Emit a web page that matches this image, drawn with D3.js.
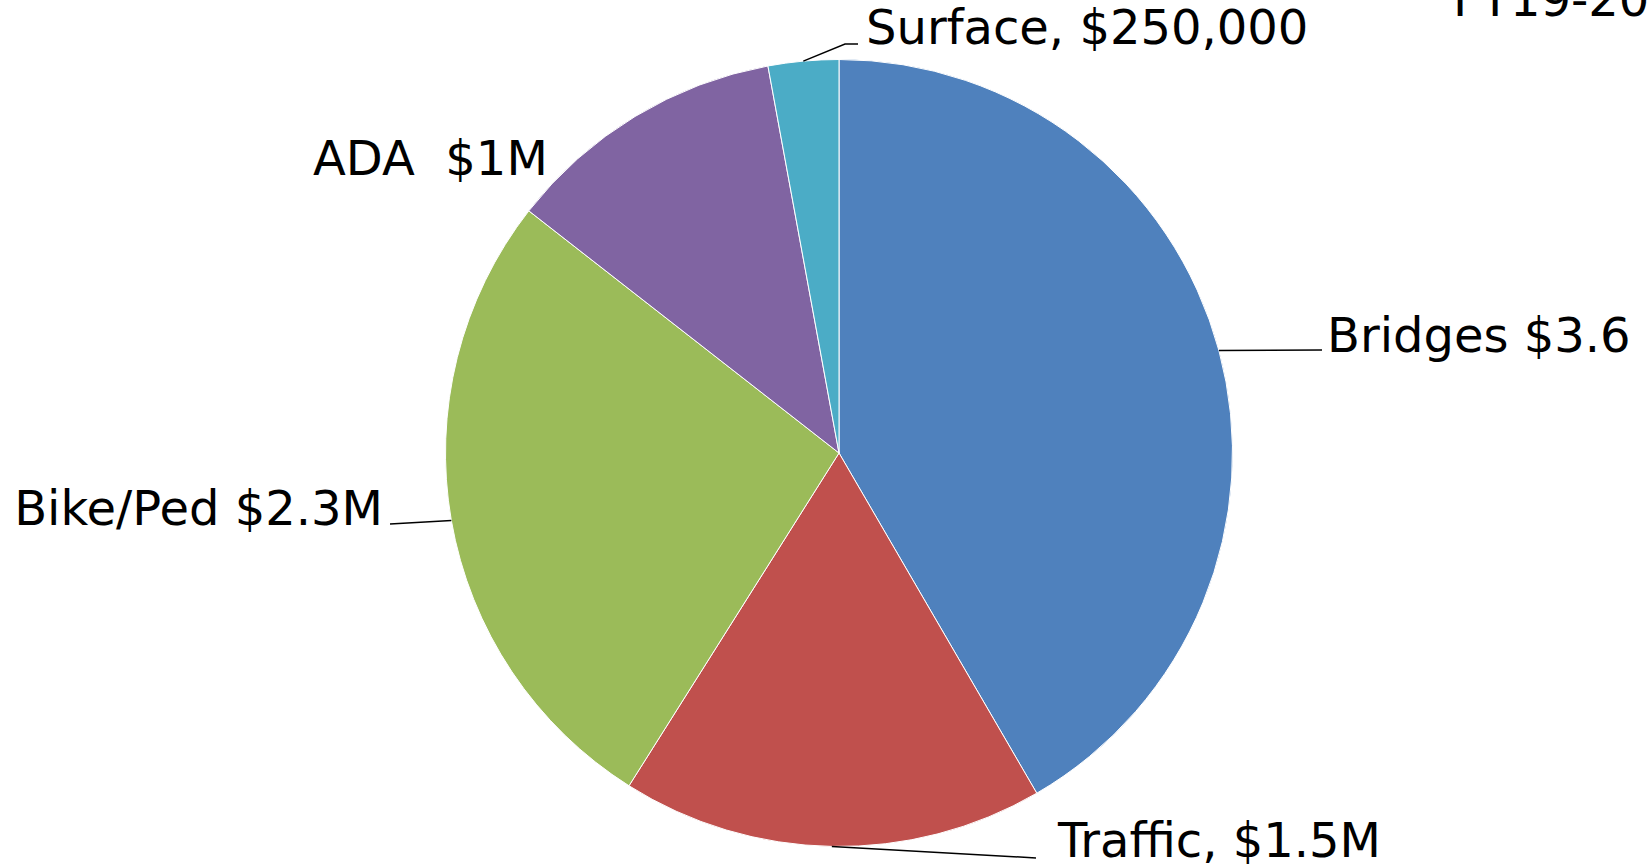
<!DOCTYPE html>
<html>
<head>
<meta charset="utf-8">
<script src="https://cdn.jsdelivr.net/npm/d3@7"></script>
<style>
  html, body { margin: 0; padding: 0; background: #fff; overflow: hidden; }
  text { font-family: "DejaVu Sans", Verdana, sans-serif; fill: #000; white-space: pre; }
</style>
</head>
<body>
<svg id="chart" width="1652" height="864"></svg>
<script>
// budget split, in $M
var categories = ["Bridges", "Traffic", "Bike/Ped", "ADA", "Surface"];
var values = [3.6, 1.5, 2.3, 1.0, 0.25];
var labels = ["Bridges $3.6", "Traffic, $1.5M", "Bike/Ped $2.3M", "ADA  $1M", "Surface, $250,000"];
var colors = ["#4F81BD", "#C0504D", "#9BBB59", "#8064A2", "#4BACC6"];
var title = "FY19-20";

var svg = d3.select("#chart"),
    width = +svg.attr("width"),
    height = +svg.attr("height");

var cx = 839, cy = 453, radius = 393.5;
var fontSize = 48;

var pie = d3.pie().sort(null).value(function(d) { return d; });
var arc = d3.arc().innerRadius(0).outerRadius(radius);
var arcs = pie(values);

var g = svg.append("g").attr("transform", "translate(" + cx + "," + cy + ")");

g.selectAll("path")
  .data(arcs)
  .enter().append("path")
  .attr("d", arc)
  .attr("fill", function(d, i) { return colors[i]; })
  .attr("stroke", "#fff")
  .attr("stroke-width", 1);

// point on the rim at the middle of a slice
function rim(d) {
  var a = (d.startAngle + d.endAngle) / 2;
  return [Math.sin(a) * radius, -Math.cos(a) * radius];
}

// label placement, relative to chart centre: text x, baseline y, anchor, leader points after the rim
var layout = [
  { x: 488, y: -101, anchor: "start", leader: [[483, -103]] },
  { x: 219, y: 404, anchor: "start", leader: [[197, 405]] },
  { x: -456, y: 72, anchor: "end", leader: [[-449, 71]] },
  { x: -526, y: -278, anchor: "start", leader: null },
  { x: 27, y: -409, anchor: "start", leader: [[6, -409], [19, -409]] }
];

var line = d3.line();

g.selectAll(".leader")
  .data(arcs.filter(function(d, i) { return layout[i].leader; }))
  .enter().append("path")
  .attr("class", "leader")
  .attr("fill", "none")
  .attr("stroke", "#000")
  .attr("stroke-width", 1.5)
  .attr("d", function(d) { return line([rim(d)].concat(layout[d.index].leader)); });

g.selectAll(".label")
  .data(arcs)
  .enter().append("text")
  .attr("class", "label")
  .attr("x", function(d) { return layout[d.index].x; })
  .attr("y", function(d) { return layout[d.index].y; })
  .attr("text-anchor", function(d) { return layout[d.index].anchor; })
  .style("font-size", fontSize + "px")
  .text(function(d) { return labels[d.index]; });

// title sits partly off the page, as in the original
svg.append("text")
  .attr("x", 1453)
  .attr("y", 16)
  .style("font-size", fontSize + "px")
  .text(title);
</script>
</body>
</html>
